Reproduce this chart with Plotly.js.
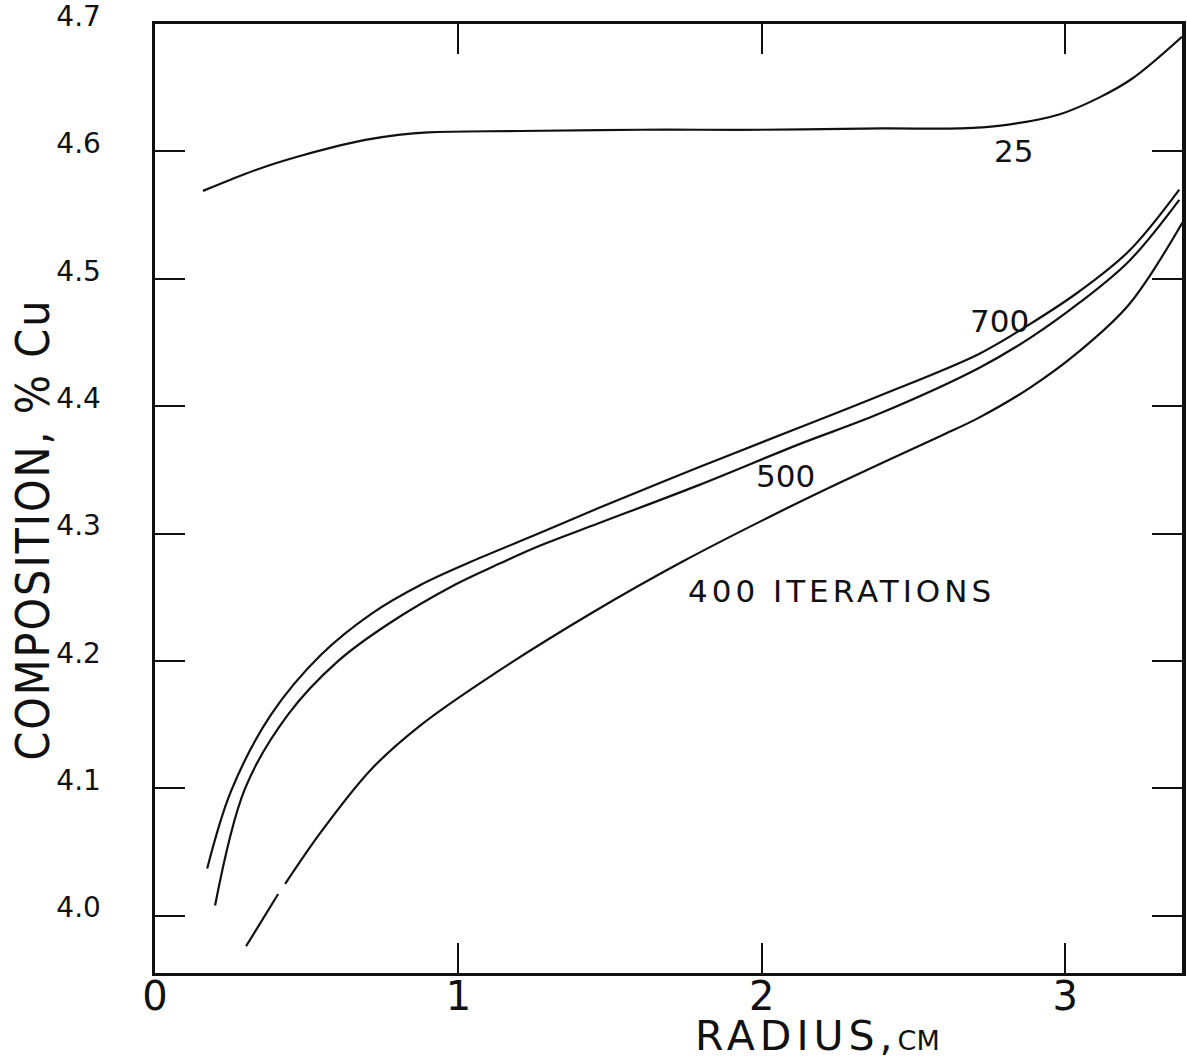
<!DOCTYPE html>
<html>
<head>
<meta charset="utf-8">
<script src="https://cdn.plot.ly/plotly-3.0.1.min.js"></script>
<style>html,body{margin:0;padding:0;background:#fff;}</style>
</head>
<body>
<div id="chart" style="width:1187px;height:1062px;"></div>
<script>
// ---- data (radius in cm, composition in % Cu) ----
const x25 = [0.158, 0.251, 0.363, 0.472, 0.581, 0.693, 0.802, 0.90, 1.20, 1.60, 2.00, 2.40, 2.65, 2.78, 2.98, 3.11, 3.22, 3.385];
const y25 = [4.569, 4.578, 4.588, 4.596, 4.603, 4.609, 4.613, 4.615, 4.616, 4.617, 4.617, 4.618, 4.618, 4.620, 4.629, 4.642, 4.657, 4.690];

const x700 = [0.172, 0.251, 0.383, 0.548, 0.713, 0.878, 1.043, 1.264, 1.462, 1.792, 2.122, 2.386, 2.716, 2.881, 3.046, 3.211, 3.376];
const y700 = [4.037, 4.098, 4.158, 4.205, 4.237, 4.260, 4.278, 4.300, 4.320, 4.352, 4.383, 4.408, 4.441, 4.464, 4.490, 4.522, 4.570];

const x500 = [0.198, 0.297, 0.439, 0.604, 0.769, 0.990, 1.132, 1.264, 1.462, 1.792, 2.122, 2.386, 2.716, 2.881, 3.046, 3.211, 3.376];
const y500 = [4.008, 4.100, 4.158, 4.200, 4.229, 4.260, 4.276, 4.290, 4.308, 4.338, 4.370, 4.394, 4.430, 4.453, 4.481, 4.514, 4.562];

// the 400-iteration curve has a small break near its start
const x400 = [0.300, 0.406, null, 0.429, 0.548, 0.713, 0.878, 1.125, 1.442, 1.739, 2.033, 2.267, 2.584, 2.716, 2.881, 3.046, 3.211, 3.386];
const y400 = [3.976, 4.017, null, 4.025, 4.066, 4.115, 4.150, 4.191, 4.238, 4.278, 4.314, 4.341, 4.376, 4.391, 4.414, 4.443, 4.480, 4.544];

const curveLabels = ["25", "700", "500", "400 ITERATIONS"];
const labelX = [2.83, 2.782, 2.079, 2.264];
const labelY = [4.600, 4.467, 4.345, 4.255];

const xTickVals = [0, 1, 2, 3];
const xTickText = ["0", "1", "2", "3"];
const yTickVals = [4.0, 4.1, 4.2, 4.3, 4.4, 4.5, 4.6, 4.7];
const yTickText = ["4.0", "4.1", "4.2", "4.3", "4.4", "4.5", "4.6", "4.7"];

const xTitle = "RADIUS,";
const xTitleUnit = "CM";
const yTitle = "COMPOSITION, % Cu";

// ---- drawing ----
const FONT = "DejaVu Sans, Liberation Sans, sans-serif";
const COND = "DejaVu Sans Condensed, Liberation Sans Narrow, DejaVu Sans, sans-serif";
const ink = "#111111";

function curve(x, y, name) {
  return {
    type: "scatter", mode: "lines", x: x, y: y, name: name,
    connectgaps: false,
    line: {color: ink, width: 2.2, shape: "spline", smoothing: 1.0},
    hoverinfo: "x+y+name", showlegend: false
  };
}

const data = [
  curve(x25, y25, "25"),
  curve(x700, y700, "700"),
  curve(x500, y500, "500"),
  curve(x400, y400, "400")
];

const annotations = curveLabels.map((t, i) => ({
  x: labelX[i], y: labelY[i], xref: "x", yref: "y",
  text: i === 3 ? "<span style='letter-spacing:4px'>" + t + "</span>" : t,
  showarrow: false, xanchor: "center", yanchor: "middle",
  font: {family: FONT, size: 31, color: ink}
}));

// x-axis title (placed under the right half of the axis, as in the reference)
annotations.push({
  x: 0.645, y: -0.0925, xref: "paper", yref: "paper",
  text: "<span style='letter-spacing:5px'>" + xTitle + "</span><span style='font-size:27px'>" + xTitleUnit + "</span>",
  showarrow: false, xanchor: "center", yanchor: "bottom", borderpad: 0,
  font: {family: FONT, size: 41, color: ink}
});

// y-axis title (rotated, slightly below the middle of the axis, as in the reference)
annotations.push({
  x: -0.119, y: 0.467, xref: "paper", yref: "paper",
  text: "<span style='letter-spacing:2px'>" + yTitle + "</span>",
  textangle: -90,
  showarrow: false, xanchor: "center", yanchor: "middle",
  font: {family: COND, size: 46, color: ink}
});

const layout = {
  width: 1187, height: 1062,
  margin: {l: 155, r: 5, t: 24, b: 89, pad: 0},
  paper_bgcolor: "#ffffff", plot_bgcolor: "#ffffff",
  showlegend: false,
  xaxis: {
    range: [0, 3.385], tickvals: xTickVals, ticktext: xTickText,
    ticks: "inside", ticklen: 30, tickwidth: 2, tickcolor: ink,
    showline: true, linewidth: 3, linecolor: ink, mirror: "ticks",
    showgrid: false, zeroline: false,
    tickfont: {family: FONT, size: 40, color: ink},
    ticklabelstandoff: -14
  },
  yaxis: {
    range: [3.955, 4.700], tickvals: yTickVals, ticktext: yTickText,
    ticks: "inside", ticklen: 30, tickwidth: 2, tickcolor: ink,
    showline: true, linewidth: 3.5, linecolor: ink, mirror: "ticks",
    showgrid: false, zeroline: false,
    tickfont: {family: FONT, size: 28, color: ink},
    ticklabelstandoff: 45, ticklabelshift: -8, ticklabeloverflow: "allow"
  },
  annotations: annotations
};

Plotly.newPlot("chart", data, layout, {displayModeBar: false, staticPlot: true});
</script>
</body>
</html>
